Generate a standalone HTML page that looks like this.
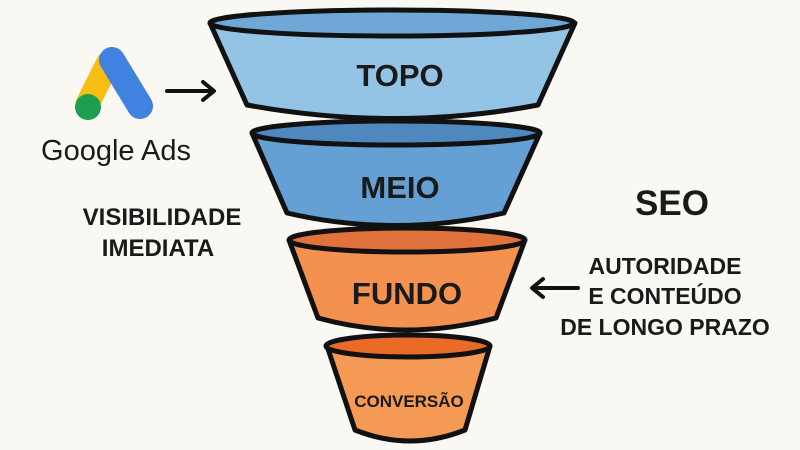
<!DOCTYPE html>
<html><head><meta charset="utf-8"><style>
html,body{margin:0;padding:0;background:#faf8f3;}
svg{display:block}
text{font-family:"Liberation Sans",sans-serif;font-weight:bold;fill:#1a1a1a}
</style></head><body>
<svg width="800" height="450" viewBox="0 0 800 450" xmlns="http://www.w3.org/2000/svg">
<rect width="800" height="450" fill="#faf8f3"/>
<g stroke="#111" stroke-width="5" stroke-linejoin="round">
<path d="M210,23 L247,105 Q395,132 538,105 L575,23 Z" fill="#93c4e6"/>
<ellipse cx="392" cy="23" rx="182" ry="13" fill="#6fa8d6"/>
<path d="M252,133 L287,213 Q395,238 504,213 L540,133 Z" fill="#64a0d4"/>
<ellipse cx="396" cy="133" rx="144" ry="12" fill="#4f88bf"/>
<path d="M289,240 L318,318 Q405,342 496,318 L525,240 Z" fill="#f4914f"/>
<ellipse cx="407" cy="240" rx="118" ry="12" fill="#df733b"/>
<path d="M327,346 L355,430 Q410,452 465,430 L490,346 Z" fill="#f49a55"/>
<ellipse cx="408" cy="346" rx="82" ry="11" fill="#ea6a28"/>
</g>
<text x="400" y="86" font-size="31" text-anchor="middle">TOPO</text>
<text x="400" y="198" font-size="31" text-anchor="middle">MEIO</text>
<text x="407" y="304" font-size="31" text-anchor="middle">FUNDO</text>
<text x="409" y="407" font-size="17" text-anchor="middle">CONVERSÃO</text>
<g stroke-linecap="round">
<line x1="108" y1="63" x2="88" y2="103" stroke="#f7bd12" stroke-width="24"/>
<line x1="112" y1="60" x2="140" y2="106" stroke="#3f82e0" stroke-width="26"/>
</g>
<circle cx="88" cy="107" r="13" fill="#1e9e50"/>
<text x="116" y="160" font-size="29" text-anchor="middle" style="font-weight:normal">Google Ads</text>
<g stroke="#111" stroke-width="4" fill="none" stroke-linecap="round" stroke-linejoin="round">
<line x1="167" y1="91" x2="213" y2="91"/><path d="M203,82 L214,91 L203,100"/>
<line x1="533" y1="288" x2="578" y2="288"/><path d="M543,279 L532,288 L543,297"/>
</g>
<text x="162" y="225" font-size="24" text-anchor="middle">VISIBILIDADE</text>
<text x="158" y="256" font-size="24" text-anchor="middle">IMEDIATA</text>
<text x="672" y="215" font-size="35" text-anchor="middle">SEO</text>
<text x="665" y="274" font-size="23" text-anchor="middle">AUTORIDADE</text>
<text x="665" y="304" font-size="23" text-anchor="middle">E CONTEÚDO</text>
<text x="665" y="335" font-size="23" text-anchor="middle">DE LONGO PRAZO</text>
</svg>
</body></html>
